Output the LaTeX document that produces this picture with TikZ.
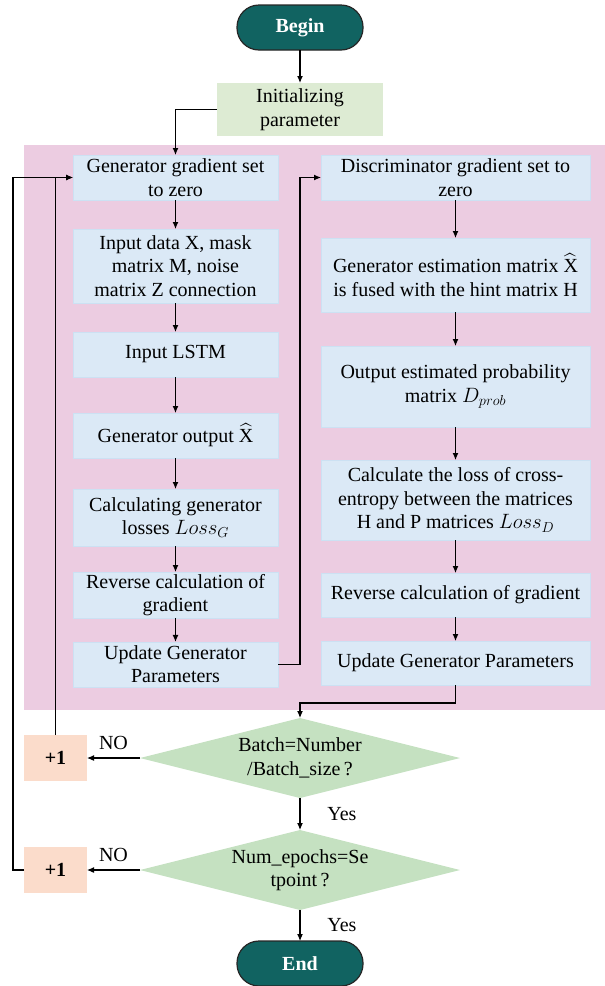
\documentclass[tikz,border=0pt]{standalone}
\usepackage{fontspec}
\setmainfont{Liberation Serif}
\usepackage{amsmath}
\usepackage{tikz}
\usetikzlibrary{positioning,shapes.geometric,arrows.meta}
\definecolor{tealfill}{RGB}{17,99,97}
\definecolor{initfill}{RGB}{221,235,211}
\definecolor{pinkbg}{RGB}{236,204,225}
\definecolor{bluefill}{RGB}{219,233,246}
\definecolor{blueline}{RGB}{204,225,243}
\definecolor{diafill}{RGB}{197,225,193}
\definecolor{peachfill}{RGB}{251,220,203}
\tikzstyle{terminal} = [rectangle, rounded corners=22pt, minimum width=126pt, minimum height=45pt, fill=tealfill, draw=black!85, line width=1.2pt, text=white, font=\bfseries\fontsize{20}{23.5}\selectfont]
\tikzstyle{initbox} = [rectangle, fill=initfill, minimum width=166pt, minimum height=53pt, align=center, inner sep=2pt]
\tikzstyle{stepL} = [rectangle, fill=bluefill, draw=blueline, line width=0.8pt, minimum width=205pt, align=center, inner sep=2pt]
\tikzstyle{stepR} = [stepL, minimum width=269pt]
\tikzstyle{decision} = [diamond, aspect=4, fill=diafill, minimum width=320pt, minimum height=80pt, inner sep=0pt, align=center]
\tikzstyle{plusone} = [rectangle, fill=peachfill, minimum width=63pt, minimum height=46pt, font=\bfseries\fontsize{20}{23.5}\selectfont]
\tikzstyle{connect0} = [line width=1.1pt]
\tikzstyle{connect1} = [line width=1.1pt, -{Latex[length=7pt,width=6pt]}]

\begin{document}
\begin{tikzpicture}[x=1pt, y=-1pt, outer sep=0pt, font=\fontsize{20}{23.5}\selectfont]
	\useasboundingbox (0,0) rectangle (605,986);
	% background of the training loop
	\fill[pinkbg] (24,145) rectangle (605,710);

	% start
	\node (begin) [terminal] at (300,27.5) {Begin};
	\node (init) [initbox, below=33pt of begin] {Initializing\\parameter};

	% generator column
	\node (gzero) [stepL, minimum height=45pt] at (175.5,177.5) {Generator gradient set\\to zero};
	\node (input) [stepL, minimum height=74pt, below=29pt of gzero] {Input data X, mask\\matrix M, noise\\matrix Z connection};
	\node (lstm) [stepL, minimum height=45pt, below=29pt of input] {Input LSTM};
	\node (gout) [stepL, minimum height=45pt, below=36pt of lstm] {Generator output $\widehat{\text{X}}$};
	\node (lossg) [stepL, minimum height=57pt, below=31pt of gout] {Calculating generator\\losses $Loss_G$};
	\node (grev) [stepL, minimum height=45pt, below=26pt of lossg] {Reverse calculation of\\gradient};
	\node (gupd) [stepL, minimum height=45pt, below=24pt of grev] {Update Generator\\Parameters};

	% discriminator column
	\node (dzero) [stepR, minimum height=45pt] at (455.5,177.5) {Discriminator gradient set to\\zero};
	\node (fuse) [stepR, minimum height=74pt, below=38pt of dzero] {Generator estimation matrix $\widehat{\text{X}}$\\is fused with the hint matrix H};
	\node (dprob) [stepR, minimum height=81pt, below=34pt of fuse] {Output estimated probability\\matrix $D_{prob}$};
	\node (lossd) [stepR, minimum height=80pt, below=33pt of dprob] {Calculate the loss of cross-\\entropy between the matrices\\H and P matrices $Loss_D$};
	\node (drev) [stepR, minimum height=44pt, below=33pt of lossd] {Reverse calculation of gradient};
	\node (dupd) [stepR, minimum height=44pt, below=24pt of drev] {Update Generator Parameters};

	% checks
	\node (batch) [decision] at (300,758) {Batch=Number\\/Batch\_size\,?};
	\node (epoch) [decision, below=32pt of batch] {Num\_epochs=Se\\tpoint\,?};
	\node (plus1) [plusone, left=53pt of batch] {+1};
	\node (plus2) [plusone, left=53pt of epoch] {+1};
	\node (end) [terminal] at (300,963.5) {End};

	% connectors
	\draw [connect1] (begin) -- (init);
	\draw [connect1] (init.west) -| (gzero.north);
	\draw [connect1] (gzero) -- (input);
	\draw [connect1] (input) -- (lstm);
	\draw [connect1] (lstm) -- (gout);
	\draw [connect1] (gout) -- (lossg);
	\draw [connect1] (lossg) -- (grev);
	\draw [connect1] (grev) -- (gupd);
	\draw [connect1] (gupd.east) -- ++(22,0) |- (dzero.west);
	\draw [connect1] (dzero) -- (fuse);
	\draw [connect1] (fuse) -- (dprob);
	\draw [connect1] (dprob) -- (lossd);
	\draw [connect1] (lossd) -- (drev);
	\draw [connect1] (drev) -- (dupd);
	\draw [connect1] (dupd.south) -- ++(0,18) -| (batch.north);
	\draw [connect1] (batch) -- node[right=24pt] {Yes} (epoch);
	\draw [connect1] (epoch) -- node[right=24pt] {Yes} (end);
	\draw [connect1] (batch) -- node[above, yshift=5pt] {NO} (plus1);
	\draw [connect1] (epoch) -- node[above, yshift=5pt] {NO} (plus2);
	\draw [connect1] (plus1.north) |- (gzero.west);
	\draw [connect1] (plus2.west) -- ++(-11,0) |- (gzero.west);
\end{tikzpicture}
\end{document}
